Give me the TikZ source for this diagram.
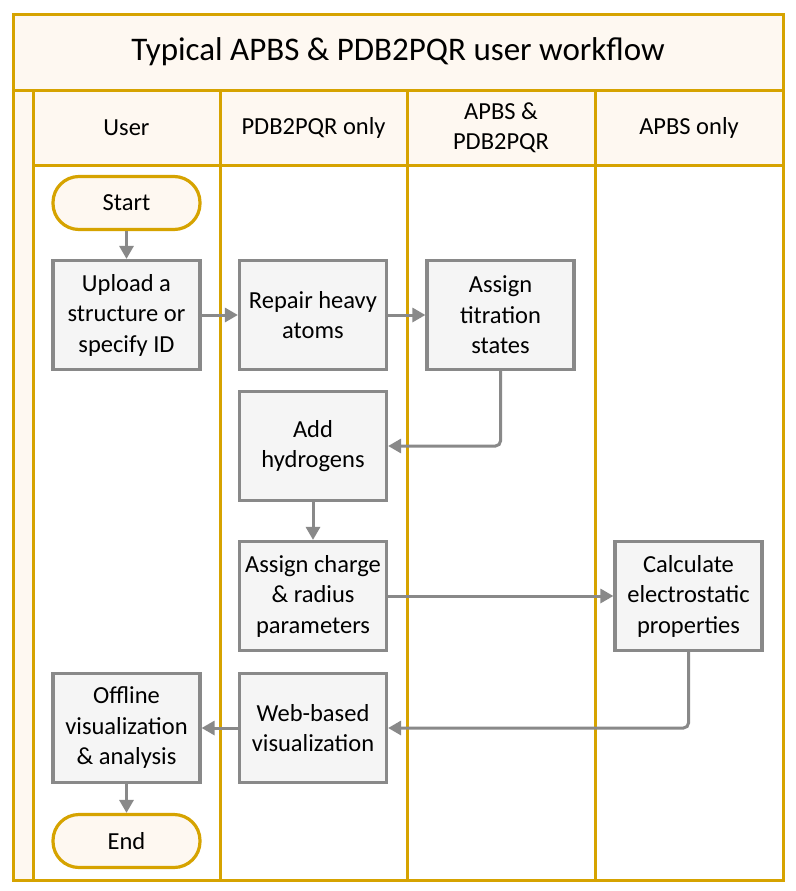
\documentclass[tikz,border=0pt]{standalone}
\usepackage{fontspec}
\setmainfont{Carlito}
\usetikzlibrary{arrows.meta}
\definecolor{gold}{RGB}{214,163,0}
\definecolor{cream}{RGB}{254,248,241}
\definecolor{lgray}{RGB}{137,137,137}
\definecolor{boxfill}{RGB}{245,245,245}
\tikzset{
  lanefill/.style={fill=cream,draw=gold,line width=3pt},
  laneline/.style={draw=gold,line width=3pt},
  hdr/.style={font=\fontsize{24.5}{30}\selectfont,align=center,inner sep=0pt},
  proc/.style={draw=lgray,fill=boxfill,line width=3.2pt,minimum width=147pt,minimum height=109pt,
    align=center,font=\fontsize{24.5}{30.5}\selectfont,inner sep=0pt},
  term/.style={draw=gold,fill=cream,line width=3.2pt,minimum width=147pt,minimum height=53pt,
    rounded corners=26pt,align=center,font=\fontsize{24.5}{30}\selectfont,inner sep=0pt},
  conn/.style={draw=lgray,line width=3pt,-{Triangle[length=13pt,width=14pt]},rounded corners=5pt},
}
\begin{document}
\begin{tikzpicture}[x=1pt,y=-1pt]
\useasboundingbox (0,0) rectangle (795,891);
% frame
\fill[white] (13,15) rectangle (783,880);
\path[lanefill] (13,15) rectangle (783,90);
\path[lanefill] (13,90) rectangle (33,880);
\path[lanefill] (33,90) rectangle (783,165);
\path[laneline] (33,165) -- (783,165);
\foreach \x in {220,407,595} {\path[laneline] (\x,90) -- (\x,880);}
\path[laneline] (33,90) -- (33,880);
\draw[gold,line width=3pt] (13,15) rectangle (783,880);
% texts
\node[hdr,font=\fontsize{33}{40}\selectfont] (title) at (398,52) {Typical APBS \& PDB2PQR user workflow};
\node[hdr] (h1) at (126.5,128) {User};
\node[hdr] (h2) at (313.5,128) {PDB2PQR only};
\node[hdr] (h3) at (501,128) {APBS \&\\PDB2PQR};
\node[hdr] (h4) at (689,128) {APBS only};
% nodes
\node[term] (start) at (126.5,203) {Start};
\node[proc] (upload) at (126.5,315) {Upload a\\structure or\\specify ID};
\node[proc] (repair) at (313,315) {Repair heavy\\atoms};
\node[proc] (titr) at (500.5,315) {Assign\\titration\\states};
\node[proc] (hydro) at (313,446) {Add\\hydrogens};
\node[proc] (charge) at (313,596) {Assign charge\\\& radius\\parameters};
\node[proc] (calc) at (688.5,596) {Calculate\\electrostatic\\properties};
\node[proc] (web) at (313,728) {Web-based\\visualization};
\node[proc] (off) at (126.5,728) {Offline\\visualization\\\& analysis};
\node[term] (end) at (126.5,841) {End};
% connectors
\draw[conn] (start) -- (upload);
\draw[conn] (upload) -- (repair);
\draw[conn] (repair) -- (titr);
\draw[conn] (titr.south) |- (hydro.east);
\draw[conn] (hydro) -- (charge);
\draw[conn] (charge) -- (calc);
\draw[conn] (calc.south) |- (web.east);
\draw[conn] (web) -- (off);
\draw[conn] (off) -- (end);
\end{tikzpicture}
\end{document}
